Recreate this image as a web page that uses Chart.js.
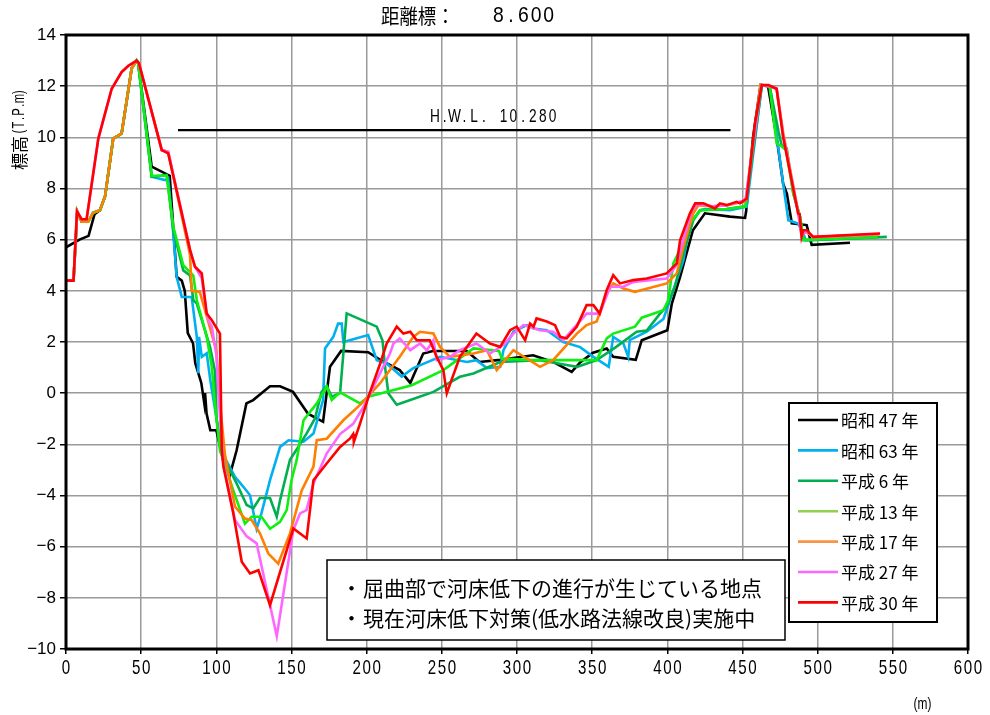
<!DOCTYPE html>
<html>
<head>
<meta charset="utf-8">
<script src="https://cdn.jsdelivr.net/npm/chart.js@4.4.1/dist/chart.umd.min.js"></script>
<style>
  html, body { margin: 0; padding: 0; background: #fff; }
  #wrap { width: 990px; height: 715px; }
</style>
</head>
<body>
<div id="wrap"><canvas id="profileChart" width="990" height="715"></canvas></div>
<script>
// Cross-section data: [distance (m), elevation (T.P.m)]
const seriesNames = ['昭和 47 年', '昭和 63 年', '平成 6 年', '平成 13 年', '平成 17 年', '平成 27 年', '平成 30 年'];
const lineColors = ['#000000', '#00B0F0', '#00B050', '#11EE11', '#FF7F00', '#FF66FF', '#FF0000'];
const legendColors = ['#000000', '#00B0F0', '#00B050', '#92D050', '#F79646', '#FF66FF', '#FF0000'];

const xTicks = [0, 50, 100, 150, 200, 250, 300, 350, 400, 450, 500, 550, 600];
const yTicks = [-10, -8, -6, -4, -2, 0, 2, 4, 6, 8, 10, 12, 14];

const hwlLevel = 10.28;
const hwlRange = [74.5, 442];

const showa47 = [[0,5.7],[9,6.0],[15,6.15],[19,7.0],[22.6,7.15],[26,7.7],[31.4,9.95],[37,10.15],[43.7,12.7],[47,13.0],[48,12.9],[57,8.85],[69,8.5],[73.6,4.55],[77,4.4],[79,4.0],[81,2.35],[84.5,1.95],[86,1.17],[90,0.4],[92,-0.4],[92.5,0.0],[93.5,-0.8],[96,-1.45],[100,-1.45],[104.5,-2.6],[109,-3.2],[113.5,-2.23],[120,-0.4],[124.5,-0.27],[129,-0.05],[135.7,0.27],[142.4,0.27],[151,0.05],[161,-0.8],[171,-1.12],[175.6,1.03],[183,1.65],[201,1.6],[209,1.3],[222,0.9],[229,0.4],[237.6,1.55],[244,1.65],[266.6,1.65],[275,1.22],[288.8,1.3],[310.7,1.48],[324,1.22],[336.4,0.83],[342,1.2],[350.6,1.58],[359.7,1.75],[364,1.42],[379,1.3],[383,2.07],[400,2.46],[403,3.5],[408.5,4.55],[417,6.37],[425,7.03],[441.7,6.9],[451.7,6.85],[452.4,7.1],[457,10.0],[462,12.05],[467,12.0],[472.7,10.0],[477,8.2],[479.5,7.8],[482.8,6.64],[492.7,6.57],[496,5.8],[521.5,5.88]];

const showa63 = [[0,4.4],[5,4.4],[7.5,7.1],[10.4,6.7],[14.7,6.7],[18,7.05],[22.6,7.15],[26,7.7],[31.4,9.95],[37,10.15],[43.7,12.7],[47,13.0],[48,12.9],[57,8.46],[65.9,8.33],[68,8.4],[71.4,6.24],[73.6,4.55],[77,3.76],[83.6,3.76],[87,2.2],[88,0.78],[88.5,2.2],[90.3,1.42],[93.6,1.56],[96,0.5],[101,-1.3],[104.5,-2.4],[112.4,-3.27],[118,-3.66],[122.4,-3.99],[126.8,-5.3],[130,-4.7],[135.7,-3.4],[142.4,-2.1],[148,-1.84],[158,-1.9],[164.6,-1.58],[171,-0.27],[172.3,1.75],[177.8,2.2],[181,2.72],[183.4,2.72],[184.5,2.0],[201,2.27],[206.7,1.29],[213.3,1.16],[223.3,0.65],[231,0.98],[248.8,1.42],[266.6,1.22],[273,1.29],[280,0.98],[288.8,1.03],[291,1.68],[297.6,2.4],[306.5,2.66],[311,2.53],[319.8,2.46],[330.8,2.0],[342,1.8],[350.8,1.42],[361,1.03],[364,2.2],[370.8,1.94],[374,1.42],[375,2.07],[386.3,2.4],[397.4,2.9],[401.8,3.64],[404,4.03],[410.7,5.2],[415,6.63],[421.8,7.15],[425,7.2],[441.7,7.15],[452.8,7.29],[462.8,12.04],[468.3,11.98],[472.7,10.08],[477,8.2],[480.5,6.76],[487,6.63],[490.5,6.24],[492,5.98],[500,6.0],[540,6.1]];

const heisei6 = [[0,4.4],[5,4.4],[7.5,7.1],[10.4,6.7],[14.7,6.7],[18,7.05],[22.6,7.15],[26,7.7],[31.4,9.95],[37,10.15],[43.7,12.7],[47,13.0],[48,12.9],[57,8.46],[67,8.53],[71.4,6.37],[78,4.8],[82.5,4.6],[84.7,3.64],[87,3.5],[95.8,1.81],[99,0.9],[100,-0.92],[103,-2.3],[113.5,-3.53],[120.2,-4.37],[124.6,-4.5],[129,-4.1],[135.7,-4.1],[140.2,-4.83],[142.4,-4.18],[149,-2.6],[154.5,-2.1],[160,-1.58],[165.6,-0.99],[170,0.05],[173.4,0.28],[176.8,-0.14],[182.3,0],[186.7,3.12],[206.7,2.6],[210.5,2.07],[212.5,0.9],[214.4,0.0],[220,-0.45],[229,-0.27],[244.4,0.05],[262,0.64],[271,0.77],[288.8,1.22],[315,1.29],[333,1.1],[340,1.03],[353,1.29],[366,1.81],[379.6,2.4],[386.3,2.45],[395,3.1],[399.6,3.4],[405,4.16],[410.7,5.46],[417.3,6.76],[421.8,7.15],[439,7.2],[452,7.3],[463,12.05],[468,12.0],[474,10.22],[476,9.7],[479.4,9.57],[483.8,7.8],[488.3,6.89],[490.5,5.98],[495,5.98],[546,6.11]];

const heisei13 = [[0,4.4],[5,4.4],[7.5,7.1],[10.4,6.7],[14.7,6.7],[18,7.05],[22.6,7.15],[26,7.7],[31.4,9.95],[37,10.15],[43.7,12.7],[47,13.0],[48,12.9],[57,8.5],[67,8.5],[71.4,6.5],[78,5.0],[84.7,4.6],[87,3.64],[93.6,2.2],[97,1.03],[99,-0.4],[102.4,-2.23],[111.3,-3.8],[119,-5.1],[123.5,-4.83],[130,-4.83],[135.7,-5.3],[142.4,-5.03],[146.8,-4.57],[150,-3.4],[153.5,-2.6],[158,-1.06],[166.8,-0.4],[173.4,0.25],[176.8,-0.27],[182.3,0.03],[195.6,-0.4],[201,-0.14],[230,0.31],[251,0.9],[271,1.75],[288,1.65],[290,1.35],[311,1.29],[353,1.29],[359.7,2.14],[364,2.33],[378.5,2.6],[383,2.95],[397.4,3.24],[400.6,3.64],[404,5.07],[410,5.8],[415,6.63],[421.8,7.15],[440,7.2],[452,7.3],[462,12.05],[468,12.0],[472.7,9.76],[475,9.7],[479,9.5],[483.8,7.8],[488.3,6.9],[490.5,6.0],[495,6.0],[540,6.1]];

const heisei17 = [[0,4.4],[5,4.4],[7.5,7.1],[10.4,6.7],[14.7,6.7],[18,7.05],[22.6,7.15],[26,7.7],[31.4,9.95],[37,10.15],[43.7,12.7],[47,13.0],[48.5,12.9],[63.7,9.5],[68,9.43],[82.5,5.4],[83.6,4.0],[89,3.96],[100,1.68],[102.4,-0.4],[105.7,-2.4],[112.4,-4.43],[119,-4.9],[123.5,-4.96],[129,-5.48],[134.6,-6.27],[141.2,-6.66],[149,-5.48],[156.8,-3.8],[164.6,-2.87],[166.8,-1.84],[173.4,-1.78],[184.5,-1.06],[196.7,-0.4],[208.8,0.38],[222,1.42],[231,2.2],[235.5,2.4],[244.4,2.33],[248.8,1.81],[255.4,1.42],[271,1.55],[280,1.68],[286.5,0.9],[297.6,1.68],[315.3,1.03],[324,1.29],[339.8,2.33],[346.3,2.66],[353,2.8],[359.7,3.9],[364,4.29],[370.8,4.09],[378.5,3.96],[399.6,4.29],[406.3,4.68],[410.7,5.72],[417,7.0],[420.7,7.35],[430,7.3],[440,7.35],[452,7.5],[462,12.05],[468,12.0],[472.7,11.9],[477,10.2],[487,7.1],[489.3,6.2],[492.7,6.3],[497,6.1],[541,6.2]];

const heisei27 = [[0,4.4],[5,4.4],[7.3,7.1],[10.4,6.8],[13.7,6.8],[21.5,9.95],[30.4,11.9],[37,12.55],[41.5,12.8],[47,13.0],[48.5,12.9],[63.7,9.5],[68,9.43],[82.5,5.6],[85.8,4.94],[90.3,4.5],[93,3.3],[95,2.8],[97,2.6],[100,1.5],[103,-1.5],[104.7,-2.75],[112.4,-4.96],[120.2,-5.6],[126.8,-5.87],[140.2,-9.5],[151.2,-5.35],[155.7,-4.7],[160,-4.57],[164.6,-3.53],[173.4,-2.36],[182.3,-1.6],[191,-1.2],[198,-0.53],[211,1.03],[215.5,1.55],[217.8,1.94],[222,2.14],[229,1.68],[235.5,1.94],[240,1.68],[244.4,2.07],[246.6,1.29],[255.4,1.42],[262,1.68],[273,1.94],[282,1.55],[291,1.88],[297.6,2.33],[304.3,2.66],[315.3,2.46],[324,2.4],[330.8,2.07],[346.3,3.11],[355,3.11],[362,4.16],[370.8,4.16],[377.4,4.35],[399.6,4.48],[406,5.0],[410.7,6.0],[416,7.1],[420,7.4],[430,7.3],[440,7.35],[452,7.55],[462.5,12.05],[468,12.0],[472.7,11.9],[477,10.1],[487,7.05],[489.3,6.15],[492.7,6.35],[497,6.1],[541,6.22]];

const heisei30 = [[0,4.4],[5,4.4],[7.3,7.1],[10.4,6.8],[13.7,6.8],[21.5,9.95],[30.4,11.9],[37,12.55],[41.5,12.8],[47,13.0],[48.5,12.9],[63.7,9.5],[68,9.37],[82.5,5.6],[85.8,4.94],[90.3,4.68],[93.6,3.11],[97,2.85],[102.4,2.33],[103.6,-2.2],[104.7,-2.87],[111.3,-4.7],[116.9,-6.59],[122.4,-7.05],[128,-6.92],[135.7,-8.29],[151.2,-5.29],[160.1,-5.68],[164.6,-3.4],[173.4,-2.75],[182.3,-2.1],[189,-1.77],[191,-1.6],[191.5,-1.9],[195.6,-1.19],[202,0],[209,1.16],[213.3,1.94],[220,2.6],[224.4,2.33],[229,2.4],[233.3,2.07],[242,2.07],[246.6,1.42],[251,0.9],[253.3,0],[262,1.42],[273,2.33],[282,1.94],[288.8,1.81],[295.4,2.46],[299.8,2.6],[305.4,2.07],[308.7,2.72],[311,2.6],[313,2.92],[319.8,2.8],[325.3,2.66],[328.7,2.2],[333,2.14],[339.8,2.6],[346.3,3.44],[350.8,3.44],[355,3.11],[359.7,4.03],[364,4.61],[368.5,4.29],[377.4,4.42],[386.3,4.48],[399.6,4.68],[406.3,5.07],[408.5,5.98],[415,7.02],[418.5,7.42],[424,7.42],[431.7,7.22],[435,7.42],[439.5,7.35],[446,7.48],[448.4,7.42],[452.8,7.61],[458.3,10.54],[462.8,12.04],[467.2,12.04],[472.7,11.9],[477,10.02],[487,7.02],[488,7.0],[489.3,6.11],[490.5,6.37],[492.7,6.37],[497,6.11],[541.5,6.24]];

const allSeries = [showa47, showa63, heisei6, heisei13, heisei17, heisei27, heisei30];
const noteLines = ['屈曲部で河床低下の進行が生じている地点', '現在河床低下対策(低水路法線改良)実施中'];

const latinFont = "'Liberation Sans', Arial, sans-serif";
const jpFont = "'Noto Sans CJK JP', sans-serif";

function toPoints(pairs) {
    return pairs.map(p => ({ x: p[0], y: p[1] }));
}

// draws text as fixed-pitch, horizontally squeezed glyphs (like a half-width gothic font)
function drawMono(ctx, text, left, y, pitch, size, sx) {
    ctx.font = size + 'px ' + latinFont;
    ctx.textAlign = 'center';
    ctx.textBaseline = 'middle';
    for (let i = 0; i < text.length; i++) {
        ctx.save();
        ctx.translate(left + pitch * (i + 0.5), y);
        ctx.scale(sx, 1);
        ctx.fillText(text[i], 0, 0);
        ctx.restore();
    }
}

const datasets = allSeries.map((s, i) => ({
    label: seriesNames[i],
    data: toPoints(s),
    borderColor: lineColors[i],
    borderWidth: 2.6,
    pointRadius: 0,
    tension: 0,
    fill: false,
    order: 7 - i
}));

datasets.push({
    label: 'H.W.L.',
    data: [{ x: hwlRange[0], y: hwlLevel }, { x: hwlRange[1], y: hwlLevel }],
    borderColor: '#000000',
    borderWidth: 2.4,
    pointRadius: 0,
    order: 9
});

// Title, labels, frame, legend and note box
const decorPlugin = {
    id: 'decor',
    afterDatasetsDraw(chart) {
        const ctx = chart.ctx;
        const a = chart.chartArea;
        const xs = chart.scales.x;
        const ys = chart.scales.y;
        ctx.save();
        ctx.strokeStyle = '#000';
        ctx.lineWidth = 3;
        ctx.strokeRect(a.left, a.top, a.right - a.left, a.bottom - a.top);
        ctx.fillStyle = '#000';

        // x tick labels
        xTicks.forEach(v => {
            const t = String(v);
            const pitch = 10;
            drawMono(ctx, t, xs.getPixelForValue(v) - pitch * t.length / 2, 668, pitch, 21, 0.72);
        });

        // H.W.L. label
        drawMono(ctx, 'H.W.L. 10.280', 430, ys.getPixelForValue(hwlLevel) - 13, 9.8, 19, 0.72);
        ctx.restore();
    },
    afterDraw(chart) {
        const ctx = chart.ctx;
        ctx.save();
        ctx.fillStyle = '#000';

        // title
        ctx.save();
        ctx.translate(381, 16);
        ctx.scale(0.92, 1);
        ctx.font = '20px ' + jpFont;
        ctx.textAlign = 'left';
        ctx.textBaseline = 'middle';
        ctx.fillText('距離標：', 0, 0);
        ctx.restore();
        drawMono(ctx, '8.600', 492, 16, 12.6, 22, 0.88);

        // unit of x axis
        drawMono(ctx, '(m)', 912, 704, 7, 17, 0.7);

        // y axis title
        ctx.save();
        ctx.translate(20, 170);
        ctx.rotate(-Math.PI / 2);
        ctx.font = '17px ' + jpFont;
        ctx.textAlign = 'left';
        ctx.textBaseline = 'middle';
        ctx.fillText('標高', 0, 0);
        drawMono(ctx, '(T.P.m)', 35, 0, 6.6, 16, 0.7);
        ctx.restore();

        // legend box
        ctx.fillStyle = '#fff';
        ctx.fillRect(789, 403, 148, 219);
        ctx.strokeStyle = '#000';
        ctx.lineWidth = 2;
        ctx.strokeRect(789, 403, 148, 219);
        ctx.textAlign = 'left';
        ctx.textBaseline = 'middle';
        ctx.font = '17px ' + jpFont;
        seriesNames.forEach((name, i) => {
            const y = 420 + i * 30.4;
            ctx.strokeStyle = legendColors[i];
            ctx.lineWidth = 2.6;
            ctx.beginPath();
            ctx.moveTo(798, y);
            ctx.lineTo(838, y);
            ctx.stroke();
            ctx.fillStyle = '#000';
            ctx.fillText(name, 841, y + 1);
        });

        // note box
        ctx.fillStyle = '#fff';
        ctx.fillRect(327, 560, 458, 80);
        ctx.strokeStyle = '#000';
        ctx.lineWidth = 1.5;
        ctx.strokeRect(327, 560, 458, 80);
        ctx.fillStyle = '#000';
        ctx.font = '21px ' + jpFont;
        noteLines.forEach((t, i) => {
            const y = 588 + i * 30;
            ctx.fillText('・', 341, y);
            ctx.fillText(t, 363, y);
        });
        ctx.restore();
    }
};

const ctx = document.getElementById('profileChart').getContext('2d');
new Chart(ctx, {
    type: 'line',
    data: { datasets: datasets },
    options: {
        responsive: false,
        animation: false,
        devicePixelRatio: 1,
        layout: { padding: { top: 35, right: 22, bottom: 0, left: 0 } },
        plugins: {
            legend: { display: false },
            tooltip: { enabled: false },
            title: { display: false }
        },
        scales: {
            x: {
                type: 'linear',
                min: 0,
                max: 600,
                afterBuildTicks: scale => { scale.ticks = xTicks.map(v => ({ value: v })); },
                afterFit: scale => { scale.height = 66; },
                grid: { color: '#9a9a9a', lineWidth: 1.5, tickLength: 5, tickColor: '#000' },
                border: { display: false },
                ticks: { display: false }
            },
            y: {
                type: 'linear',
                min: -10,
                max: 14,
                afterBuildTicks: scale => { scale.ticks = yTicks.map(v => ({ value: v })); },
                afterFit: scale => { scale.width = 66; },
                grid: { color: '#9a9a9a', lineWidth: 1.5, tickLength: 6, tickColor: '#000' },
                border: { display: false },
                ticks: {
                    color: '#000',
                    padding: 4,
                    font: { family: latinFont, size: 17 },
                    callback: v => String(v).replace('-', '\u2212')
                }
            }
        }
    },
    plugins: [decorPlugin]
});
</script>
</body>
</html>
